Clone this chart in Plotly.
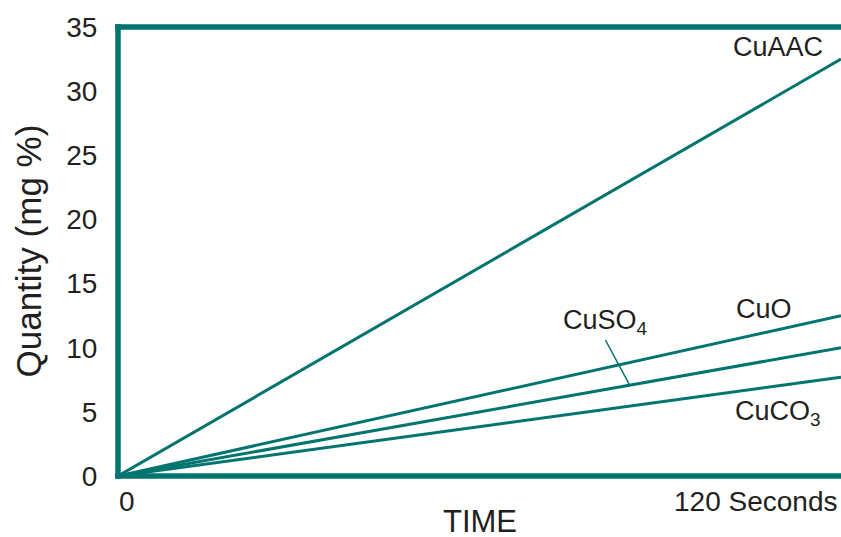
import plotly.graph_objects as go

# Data (time in seconds, quantity in mg %)
time_points = [0, 120]
cuaac = [0, 32.5]
cuo = [0, 12.5]
cuso4 = [0, 10.0]
cuco3 = [0, 7.7]

series_names = ["CuAAC", "CuO", "CuSO<sub>4</sub>", "CuCO<sub>3</sub>"]
y_ticks = [0, 5, 10, 15, 20, 25, 30, 35]
x_tick_labels = ["0", "120 Seconds"]
x_tick_vals = [0, 120]

TEAL = "#00746f"
TEXT = "#231f20"
FONT = "Liberation Sans, Arial, sans-serif"

fig = go.Figure()
for name, vals in zip(series_names, [cuaac, cuo, cuso4, cuco3]):
    fig.add_trace(go.Scatter(x=time_points, y=vals, mode="lines", name=name,
                             line=dict(color=TEAL, width=3), showlegend=False,
                             hoverinfo="skip"))

# leader line for CuSO4 label
fig.add_trace(go.Scatter(x=[80.9, 84.9], y=[10.6, 7.1], mode="lines",
                         line=dict(color=TEAL, width=1.5), showlegend=False,
                         hoverinfo="skip"))

annotations = [
    dict(x=109.5, y=33.45, text=series_names[0], xanchor="center", yanchor="middle"),
    dict(x=107.3, y=13.0, text=series_names[1], xanchor="center", yanchor="middle"),
    dict(x=80.8, y=12.0, text=series_names[2], xanchor="center", yanchor="middle"),
    dict(x=109.5, y=4.9, text=series_names[3], xanchor="center", yanchor="middle"),
]
for a in annotations:
    a.update(xref="x", yref="y", showarrow=False, font=dict(size=27, color=TEXT, family=FONT))

# x tick labels
annotations.append(dict(x=x_tick_vals[0], y=0, xref="x", yref="paper", text=x_tick_labels[0],
                        showarrow=False, xanchor="left", yanchor="top", xshift=-1, yshift=-8,
                        font=dict(size=28, color=TEXT, family=FONT)))
annotations.append(dict(x=x_tick_vals[1], y=0, xref="x", yref="paper", text=x_tick_labels[1],
                        showarrow=False, xanchor="right", yanchor="top", xshift=-2, yshift=-8,
                        font=dict(size=28, color=TEXT, family=FONT)))
# axis titles
annotations.append(dict(x=0.5, y=0, xref="paper", yref="paper", text="TIME",
                        showarrow=False, xanchor="center", yanchor="middle", yshift=-45,
                        font=dict(size=31, color=TEXT, family=FONT)))
annotations.append(dict(x=0, y=0.5, xref="paper", yref="paper", text="Quantity (mg %)",
                        showarrow=False, xanchor="center", yanchor="middle", xshift=-90,
                        textangle=-90, font=dict(size=35, color=TEXT, family=FONT)))

shapes = [
    dict(type="line", xref="paper", yref="paper", x0=0, x1=0, y0=-0.006, y1=1.006,
         line=dict(color=TEAL, width=5.5)),
    dict(type="line", xref="paper", yref="paper", x0=-0.004, x1=1.01, y0=1, y1=1,
         line=dict(color=TEAL, width=5.5)),
    dict(type="line", xref="paper", yref="paper", x0=-0.004, x1=1.01, y0=0, y1=0,
         line=dict(color=TEAL, width=5.5)),
]

fig.update_layout(
    width=841, height=537,
    margin=dict(l=118, r=0, t=27, b=61),
    paper_bgcolor="white", plot_bgcolor="white",
    font=dict(family=FONT, color=TEXT),
    annotations=annotations, shapes=shapes,
    xaxis=dict(range=[0, 120], showgrid=False, zeroline=False, showline=False,
               showticklabels=False, ticks=""),
    yaxis=dict(range=[0, 35], showgrid=False, zeroline=False, showline=False,
               tickvals=y_ticks, ticks="outside", ticklen=14, tickcolor="rgba(0,0,0,0)",
               tickfont=dict(size=28, color=TEXT, family=FONT)),
)

# remove the default page margin so the figure fills the window exactly
fig.write_html("out.html", config={"displayModeBar": False},
               post_script="document.body.style.margin='0';document.body.style.overflow='hidden';")
